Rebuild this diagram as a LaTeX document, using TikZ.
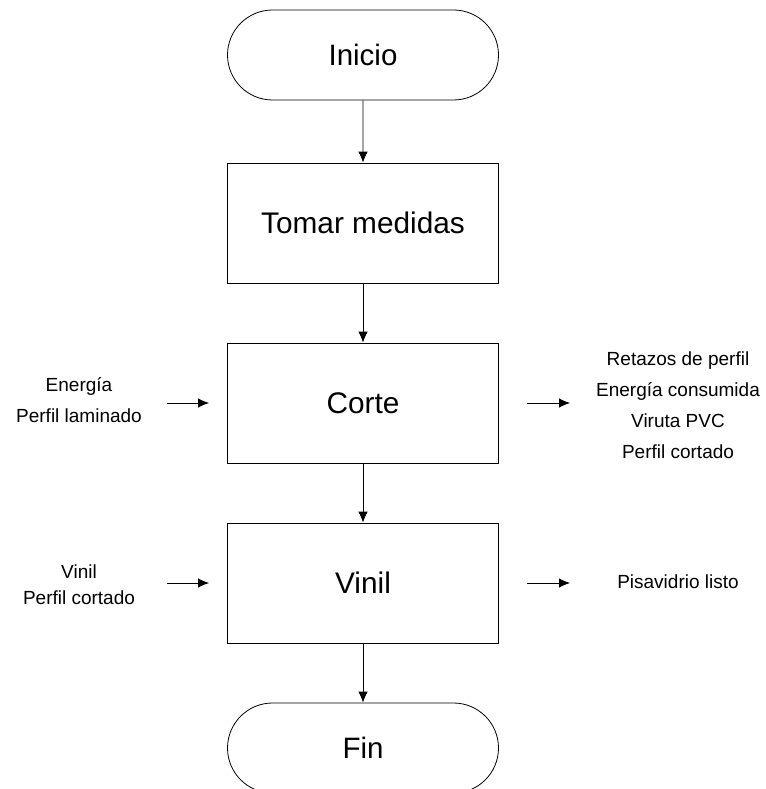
\documentclass[tikz,border=0pt]{standalone}
\usepackage{fontspec}
\setmainfont{Liberation Sans}
\usetikzlibrary{arrows.meta,shapes.misc}
\begin{document}
\begin{tikzpicture}[x=1pt,y=-1pt,
  thin line/.style={line width=0.8pt},
  flow/.style={thin line, -{Latex[length=11pt,width=9.5pt]}},
  terminal/.style={draw, thin line, rounded rectangle, rounded rectangle arc length=180,
    minimum width=271pt, minimum height=90pt, inner sep=0pt,
    font=\fontsize{29.5}{35}\selectfont},
  process/.style={draw, thin line, rectangle, minimum width=271pt, minimum height=120pt,
    inner sep=0pt, font=\fontsize{29.8}{35}\selectfont},
  note/.style={align=center, inner sep=0pt, font=\fontsize{19}{31}\selectfont}
]
\useasboundingbox (0,0) rectangle (765,789);
\clip (0,0) rectangle (765,789);

% main column
\node[terminal] (inicio) at (363,55)  {Inicio};
\node[process]  (tomar)  at (363,223) {Tomar medidas};
\node[process]  (corte)  at (363,403) {Corte};
\node[process]  (vinil)  at (363,583) {Vinil};
\node[terminal] (fin)    at (363,748) {Fin};

\draw[flow] (inicio) -- (tomar);
\draw[flow] (tomar) -- (corte);
\draw[flow] (corte) -- (vinil);
\draw[flow] (vinil) -- (fin);

% inputs and outputs of Corte
\node[note] (corteIn) at (79,400.5) {Energía\\Perfil laminado};
\node[note] (corteOut) at (678,405) {Retazos de perfil\\Energía consumida\\Viruta PVC\\Perfil cortado};
\coordinate (ciA) at (167,403);
\coordinate (ciB) at (209,403);
\coordinate (coA) at (527,403);
\coordinate (coB) at (570,403);
\draw[flow] (ciA) -- (ciB);
\draw[flow] (coA) -- (coB);

% inputs and outputs of Vinil
\node[note, font=\fontsize{19}{26}\selectfont] (vinilIn) at (79,585) {Vinil\\Perfil cortado};
\node[note] (vinilOut) at (678,582) {Pisavidrio listo};
\coordinate (viA) at (167,583);
\coordinate (viB) at (209,583);
\coordinate (voA) at (527,583);
\coordinate (voB) at (570,583);
\draw[flow] (viA) -- (viB);
\draw[flow] (voA) -- (voB);
\end{tikzpicture}
\end{document}
